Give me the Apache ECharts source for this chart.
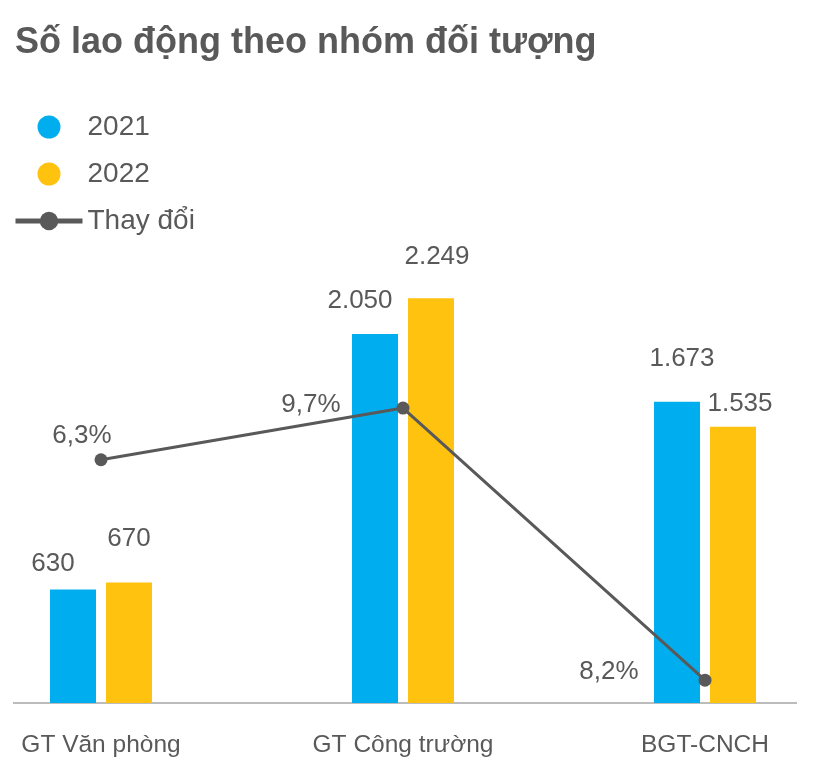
<!DOCTYPE html>
<html>
<head>
<meta charset="utf-8">
<script src="https://cdn.jsdelivr.net/npm/echarts@6/dist/echarts.min.js"></script>
<style>
  html, body { margin: 0; padding: 0; background: #fff; }
  #chart { width: 834px; height: 784px; }
</style>
</head>
<body>
<div id="chart"></div>
<script>
const categories = ['GT Văn phòng', 'GT Công trường', 'BGT-CNCH'];
const values2021 = [630, 2050, 1673];
const values2022 = [670, 2249, 1535];
const changePct = [6.3, 9.7, -8.2];

// hand placed label nudges, like the original
const offsets2021 = [[-20, -8], [-15, -15], [5, -25]];
const offsets2022 = [[0, -26], [6, -23], [7, -5]];
const offsetsChange = [[-19, -24], [-92, -3], [-96, -8]];

const textGray = '#595959';
const fmtNum = v => String(v).replace(/\B(?=(\d{3})+(?!\d))/g, '.');

const chart = echarts.init(document.getElementById('chart'));

function barData(values, offsets) {
  return values.map((v, i) => ({ value: v, label: { offset: offsets[i] } }));
}

const option = {
  animation: false,
  textStyle: { fontFamily: 'Liberation Sans, Arial, sans-serif' },
  title: {
    text: 'Số lao động theo nhóm đối tượng',
    left: 10,
    top: 20,
    textStyle: { fontSize: 36, fontWeight: 'bold', color: textGray }
  },
  legend: {
    orient: 'vertical',
    left: 13,
    top: 113,
    padding: 0,
    itemWidth: 67,
    itemHeight: 23,
    itemGap: 19,
    textStyle: { fontSize: 28, color: textGray, lineHeight: 28 },
    data: [
      { name: '2021', icon: 'circle' },
      { name: '2022', icon: 'circle' },
      { name: 'Thay đổi', lineStyle: { width: 5 } }
    ]
  },
  grid: { left: -50, right: -22, top: 253, bottom: 81, outerBoundsMode: 'none' },
  xAxis: {
    type: 'category',
    data: categories,
    axisLine: { show: false },
    axisTick: { show: false },
    axisLabel: { fontSize: 24.5, color: textGray, margin: 30 }
  },
  yAxis: [
    { type: 'value', min: 0, max: 2500, show: false, splitLine: { show: false } },
    { type: 'value', min: -9.7, max: 19.9, show: false, splitLine: { show: false } }
  ],
  series: [
    {
      name: '2021',
      type: 'bar',
      barWidth: 46,
      barGap: '21.7%',
      itemStyle: { color: '#00AEEF' },
      label: {
        show: true, position: 'top', fontSize: 26, color: textGray,
        formatter: p => fmtNum(p.value)
      },
      data: barData(values2021, offsets2021)
    },
    {
      name: '2022',
      type: 'bar',
      barWidth: 46,
      itemStyle: { color: '#FFC20E' },
      label: {
        show: true, position: 'top', fontSize: 26, color: textGray,
        formatter: p => fmtNum(p.value)
      },
      data: barData(values2022, offsets2022)
    },
    {
      name: 'Thay đổi',
      type: 'line',
      yAxisIndex: 1,
      symbol: 'circle',
      symbolSize: 13,
      z: 5,
      lineStyle: { color: '#595959', width: 3 },
      itemStyle: { color: '#595959' },
      label: {
        show: true, position: 'inside', fontSize: 26, color: textGray,
        formatter: p => Math.abs(p.value).toFixed(1).replace('.', ',') + '%'
      },
      data: changePct.map((v, i) => ({ value: v, label: { offset: offsetsChange[i] } }))
    }
  ],
  graphic: [{
    type: 'line',
    shape: { x1: 13, y1: 703, x2: 797, y2: 703 },
    style: { stroke: '#A6A6A6', lineWidth: 1.5 },
    z: 1
  }]
};

chart.setOption(option);
window.addEventListener('resize', () => chart.resize());
</script>
</body>
</html>
